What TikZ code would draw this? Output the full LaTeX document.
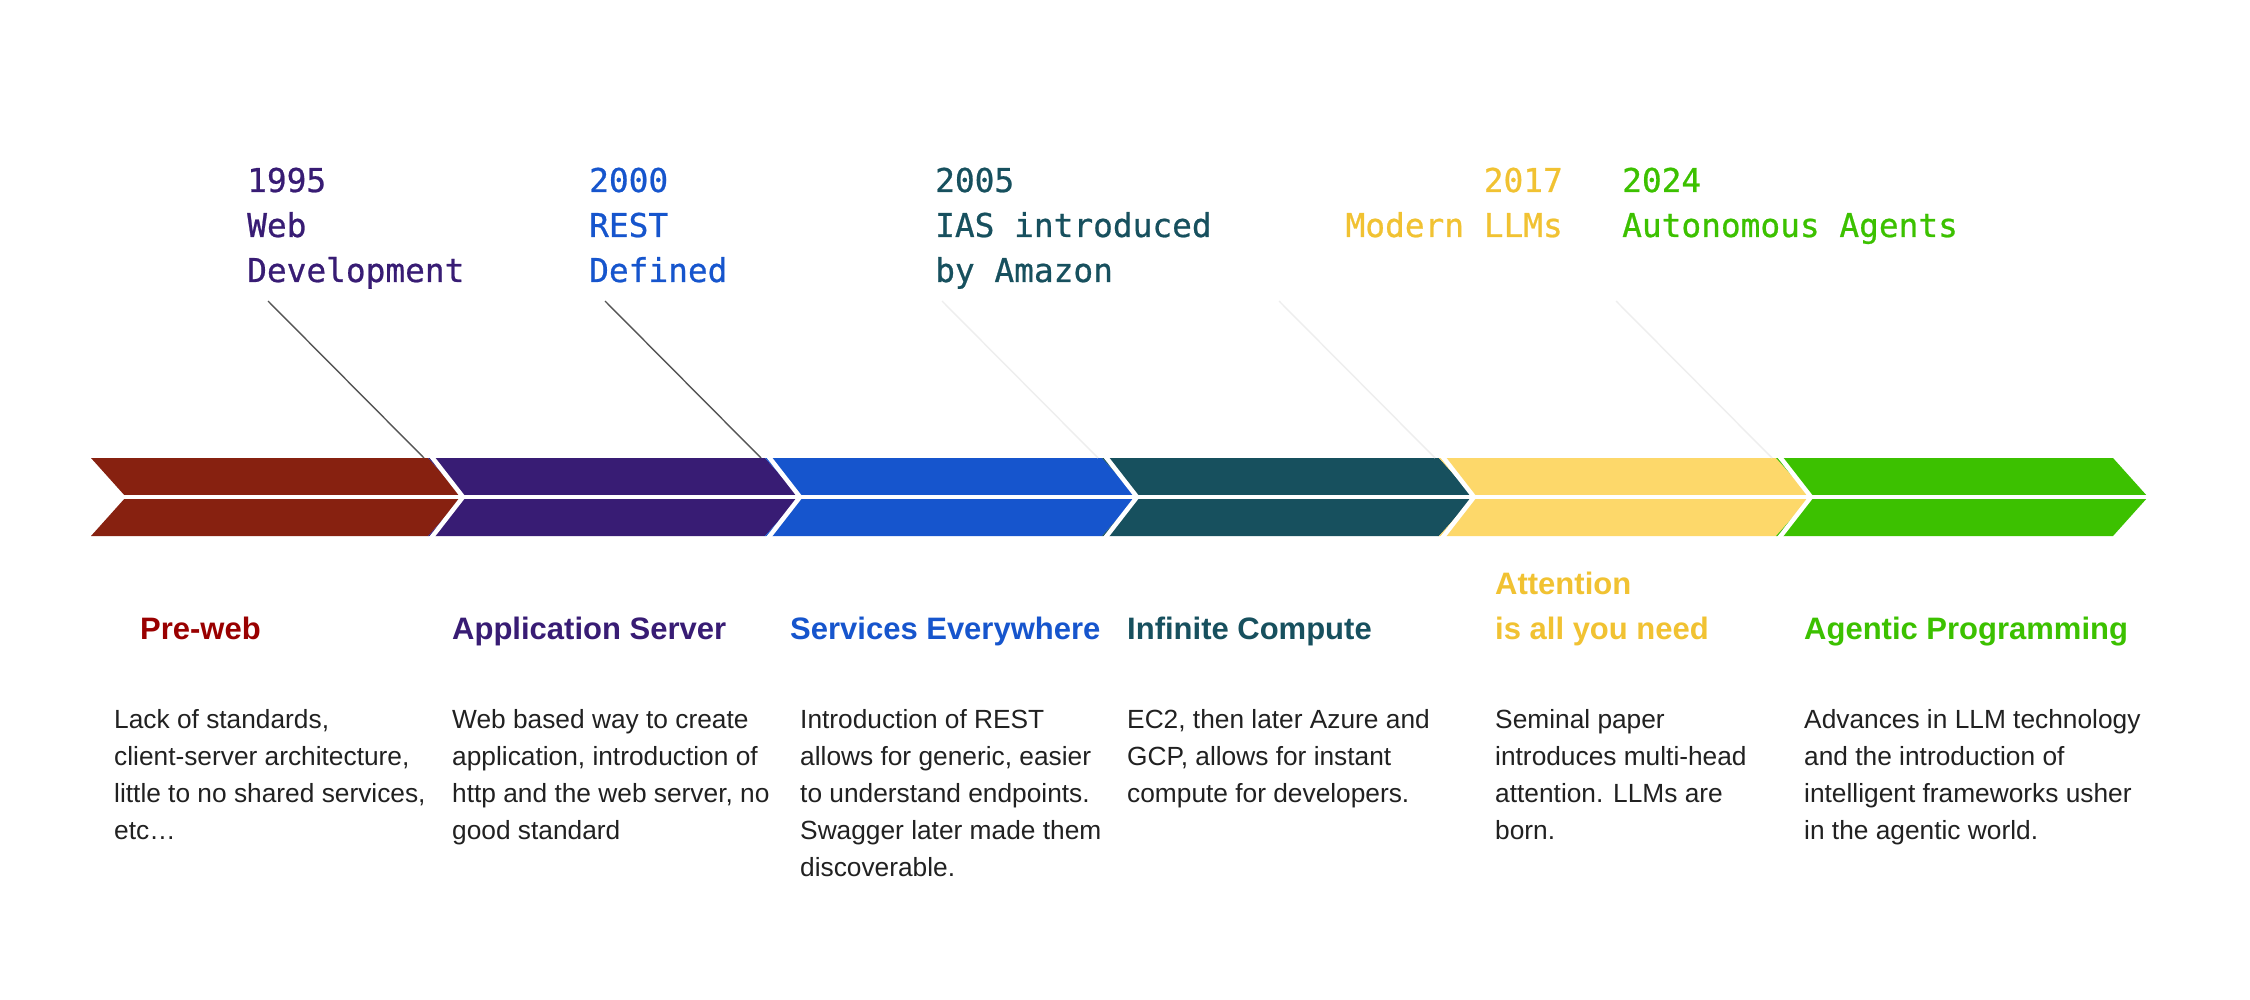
\documentclass[tikz,border=0pt]{standalone}
\usepackage{fontspec}
\setmainfont{Liberation Sans}
\newfontfamily\yearmono[FakeBold=0.7]{DejaVu Sans Mono}

\definecolor{eraRed}{RGB}{135,33,16}
\definecolor{eraPurple}{RGB}{56,28,116}
\definecolor{eraBlue}{RGB}{22,85,205}
\definecolor{eraTeal}{RGB}{23,80,94}
\definecolor{eraYellow}{RGB}{253,216,106}
\definecolor{eraGreen}{RGB}{60,193,0}
\definecolor{titleRed}{RGB}{153,0,0}
\definecolor{titleYellow}{RGB}{241,194,50}
\definecolor{bodyInk}{RGB}{33,33,33}
\definecolor{leaderDark}{RGB}{85,85,85}
\definecolor{leaderPale}{RGB}{238,238,238}

\begin{document}
\begin{tikzpicture}[x=1pt,y=-1pt,
  yearlabel/.style={inner sep=0pt, font=\yearmono\fontsize{32.8}{45}\selectfont},
  eratitle/.style={inner sep=0pt, anchor=base west, font=\fontsize{31}{45}\selectfont\bfseries},
  erabody/.style={inner sep=0pt, anchor=base west, text=bodyInk, font=\fontsize{26.3}{37}\selectfont},
  separator/.style={draw=white, line width=4.5pt, line join=miter},
  leaderline/.style={line width=1.4pt}]

\useasboundingbox[fill=white] (0,0) rectangle (2250,1000);

% chevron band: six segments, left edge at x=91, pitch 337, point depth 35
\foreach \c [count=\i from 0] in {eraRed,eraPurple,eraBlue,eraTeal,eraYellow,eraGreen} {
  \pgfmathsetmacro\xa{91+337*\i}
  \pgfmathsetmacro\xb{\xa+337}
  \fill[\c] (\xa,458) -- (\xb,458) -- (\xb+35,497) -- (\xb,536)
            -- (\xa,536) -- (\xa+35,497) -- cycle;
}
% white joints between segments and the horizontal split line
\foreach \k in {1,...,5} {
  \pgfmathsetmacro\xb{91+337*\k}
  \draw[separator] (\xb,452) -- (\xb+35,497) -- (\xb,542);
}
\draw[draw=white, line width=4pt] (124,497) -- (2152,497);

% leader lines from the year labels down to the joints
\foreach \k/\col in {1/leaderDark,2/leaderDark,3/leaderPale,4/leaderPale,5/leaderPale} {
  \pgfmathsetmacro\xb{91+337*\k}
  \coordinate (lead\k top) at (\xb-160,301);
  \coordinate (lead\k foot) at (\xb-4,458);
  \draw[leaderline, \col] (lead\k top) -- (lead\k foot);
}

% year labels
\node[yearlabel, anchor=base west, text=eraPurple] (y1995) at (247,192)
  {\begin{tabular}[t]{@{}l@{}}1995\\Web\\Development\end{tabular}};
\node[yearlabel, anchor=base west, text=eraBlue] (y2000) at (589,192)
  {\begin{tabular}[t]{@{}l@{}}2000\\REST\\Defined\end{tabular}};
\node[yearlabel, anchor=base west, text=eraTeal] (y2005) at (935,192)
  {\begin{tabular}[t]{@{}l@{}}2005\\IAS introduced\\by Amazon\end{tabular}};
\node[yearlabel, anchor=base east, text=titleYellow] (y2017) at (1563,192)
  {\begin{tabular}[t]{@{}r@{}}2017\\Modern LLMs\end{tabular}};
\node[yearlabel, anchor=base west, text=eraGreen] (y2024) at (1622,192)
  {\begin{tabular}[t]{@{}l@{}}2024\\Autonomous Agents\end{tabular}};

% era titles
\node[eratitle, text=titleRed] (tPre) at (140,639) {Pre-web};
\node[eratitle, text=eraPurple] (tApp) at (452,639) {Application Server};
\node[eratitle, text=eraBlue] (tSvc) at (790,639) {Services Everywhere};
\node[eratitle, text=eraTeal] (tInf) at (1127,639) {Infinite Compute};
\node[eratitle, text=titleYellow] (tAtt) at (1495,594)
  {\begin{tabular}[t]{@{}l@{}}Attention\\is all you need\end{tabular}};
\node[eratitle, text=eraGreen] (tAgt) at (1804,639) {Agentic Programming};

% era descriptions
\node[erabody] (dPre) at (114,728)
  {\begin{tabular}[t]{@{}l@{}}Lack of standards,\\client-server architecture,\\little to no shared services,\\etc…\end{tabular}};
\node[erabody] (dApp) at (452,728)
  {\begin{tabular}[t]{@{}l@{}}Web based way to create\\application, introduction of\\http and the web server, no\\good standard\end{tabular}};
\node[erabody] (dSvc) at (800,728)
  {\begin{tabular}[t]{@{}l@{}}Introduction of REST\\allows for generic, easier\\to understand endpoints.\\Swagger later made them\\discoverable.\end{tabular}};
\node[erabody] (dInf) at (1127,728)
  {\begin{tabular}[t]{@{}l@{}}EC2, then later Azure and\\GCP, allows for instant\\compute for developers.\end{tabular}};
\node[erabody] (dAtt) at (1495,728)
  {\begin{tabular}[t]{@{}l@{}}Seminal paper\\introduces multi-head\\attention. LLMs are\\born.\end{tabular}};
\node[erabody] (dAgt) at (1804,728)
  {\begin{tabular}[t]{@{}l@{}}Advances in LLM technology\\and the introduction of\\intelligent frameworks usher\\in the agentic world.\end{tabular}};

\end{tikzpicture}
\end{document}
